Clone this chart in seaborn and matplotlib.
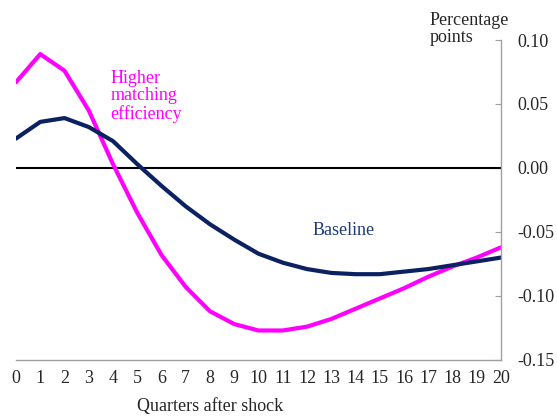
import numpy as np
import pandas as pd
import seaborn as sns
import matplotlib.pyplot as plt

quarters = list(range(21))
baseline = [0.023, 0.036, 0.039, 0.032, 0.021, 0.003, -0.014, -0.030, -0.044, -0.056,
            -0.067, -0.074, -0.079, -0.082, -0.083, -0.083, -0.081, -0.079, -0.076, -0.073, -0.070]
higher_eff = [0.067, 0.089, 0.076, 0.045, 0.003, -0.035, -0.068, -0.093, -0.112, -0.122,
              -0.127, -0.127, -0.124, -0.118, -0.110, -0.102, -0.094, -0.085, -0.077, -0.070, -0.062]

df = pd.DataFrame({"Quarter": quarters * 2,
                   "Value": baseline + higher_eff,
                   "Series": ["Baseline"] * 21 + ["Higher matching efficiency"] * 21})

sns.set_style("white")
plt.rcParams['font.family'] = ['Liberation Serif', 'DejaVu Serif']

fig = plt.figure(figsize=(5.57, 4.19), dpi=100)
ax = fig.add_axes([0.0287, 0.141, 0.8708, 0.7635])

sns.lineplot(data=df, x="Quarter", y="Value", hue="Series",
             palette={"Baseline": "#0b2161", "Higher matching efficiency": "#ff00ff"},
             hue_order=["Higher matching efficiency", "Baseline"],
             linewidth=3, legend=False, ax=ax)
ax.axhline(0, color="black", linewidth=1.5, zorder=1)

ax.set_xlim(0, 20)
ax.set_ylim(-0.15, 0.10)
ax.set_xticks(quarters)
ax.set_yticks([-0.15, -0.10, -0.05, 0.0, 0.05, 0.10])
ax.set_yticklabels(["-0.15", "-0.10", "-0.05", "0.00", "0.05", "0.10"])
ax.yaxis.tick_right()
ax.tick_params(axis="y", direction="in", length=4, color="#a0a0a0", labelsize=13, pad=12)
ax.tick_params(axis="x", direction="out", length=4, color="#a0a0a0", labelsize=13, pad=3)
for s in ["top", "left"]:
    ax.spines[s].set_visible(False)
for s in ["bottom", "right"]:
    ax.spines[s].set_color("#a0a0a0")
    ax.spines[s].set_linewidth(1)

ax.set_xlabel("Quarters after shock", fontsize=13)
ax.xaxis.set_label_coords(0.40, -0.12)
ax.set_ylabel("")

ax.text(3.9, 0.056, "Higher\nmatching\nefficiency", color="#ff00ff", fontsize=13,
        va="center", ha="left", linespacing=1.05)
ax.text(13.5, -0.049, "Baseline", color="#1f3a7a", fontsize=13, va="center", ha="center")
fig.text(0.772, 0.931, "Percentage\npoints", fontsize=13, ha="left", va="center", linespacing=1.05)

fig.savefig("out.png", dpi=100)
